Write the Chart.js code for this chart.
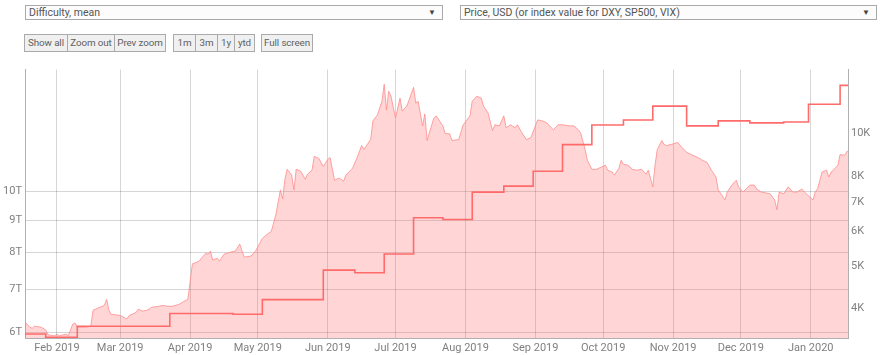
<!DOCTYPE html>
<html>
<head>
<meta charset="utf-8">
<script src="https://cdn.jsdelivr.net/npm/chart.js@4.4.1/dist/chart.umd.min.js"></script>
<style>
  body { margin: 0; width: 880px; height: 355px; position: relative; background: #fff; font-family: Roboto, sans-serif; overflow: hidden; }
  .sel { position: absolute; top: 5px; height: 15px; box-sizing: border-box; border: 1px solid #a9a9a9; background: #fcfcfc; color: #555; font-size: 10.5px; line-height: 13px; padding-left: 3px; }
  .sel span { position: absolute; right: 6px; top: 0; font-size: 8px; color: #444; }
  .btn { position: absolute; top: 34px; height: 18px; box-sizing: border-box; border: 1px solid #aaa; background: #f0f0f0; color: #606060; font-size: 9.8px; line-height: 16px; text-align: center; white-space: nowrap; letter-spacing: -0.1px; }
  canvas { position: absolute; left: 0; top: 60px; }
</style>
</head>
<body>
<div class="sel" style="left:25px; width:418px;">Difficulty, mean<span>&#9660;</span></div>
<div class="sel" style="left:460px; width:417px;">Price, USD (or index value for DXY, SP500, VIX)<span>&#9660;</span></div>

<div class="btn" style="left:24px; width:44px;">Show all</div>
<div class="btn" style="left:67px; width:48px;">Zoom out</div>
<div class="btn" style="left:114px; width:52px;">Prev zoom</div>
<div class="btn" style="left:173px; width:23px;">1m</div>
<div class="btn" style="left:195px; width:23px;">3m</div>
<div class="btn" style="left:217px; width:18px;">1y</div>
<div class="btn" style="left:234px; width:21px;">ytd</div>
<div class="btn" style="left:261px; width:52px;">Full screen</div>

<canvas id="chart" width="880" height="295"></canvas>

<script>
// visible date range
const rangeStart = '2019-01-17T20:00:00Z';
const rangeEnd = '2020-01-17T12:00:00Z';

// month ticks on the x axis
const monthTicks = ['2019-02-01', '2019-03-01', '2019-04-01', '2019-05-01', '2019-06-01', '2019-07-01',
  '2019-08-01', '2019-09-01', '2019-10-01', '2019-11-01', '2019-12-01', '2020-01-01'];
const monthNames = ['Jan', 'Feb', 'Mar', 'Apr', 'May', 'Jun', 'Jul', 'Aug', 'Sep', 'Oct', 'Nov', 'Dec'];

// axis ticks
const diffTicks = [6, 7, 8, 9, 10];              // T
const priceTicks = [4000, 5000, 6000, 7000, 8000, 10000];
const diffMin = 5.874, diffMax = 15.52;
const priceMin = 3431, priceMax = 13990;

// difficulty (T), value changes on each date
const diffDates = ['2019-01-17', '2019-01-27', '2019-02-10', '2019-03-23', '2019-04-20', '2019-05-03',
  '2019-05-30', '2019-06-13', '2019-06-26', '2019-07-09', '2019-07-22', '2019-08-04', '2019-08-18',
  '2019-08-31', '2019-09-13', '2019-09-26', '2019-10-10', '2019-10-23', '2019-11-07', '2019-11-21',
  '2019-12-05', '2019-12-20', '2019-12-31', '2020-01-14', '2020-01-18'];
const diffValues = [5.96, 5.89, 6.13, 6.42, 6.40, 6.75, 7.51, 7.44, 7.96, 9.08, 9.02, 9.96, 10.18,
  10.74, 11.83, 12.70, 12.93, 13.60, 12.66, 12.89, 12.80, 12.84, 13.69, 14.66, 14.66];

// price, USD
const priceDates = ['2019-01-17', '2019-01-20', '2019-01-21', '2019-01-22', '2019-01-25', '2019-01-27',
  '2019-01-28', '2019-01-31', '2019-02-01', '2019-02-02', '2019-02-05', '2019-02-06', '2019-02-08',
  '2019-02-09', '2019-02-10', '2019-02-14', '2019-02-16', '2019-02-17', '2019-02-19', '2019-02-20',
  '2019-02-22', '2019-02-23', '2019-02-24', '2019-02-25', '2019-02-26', '2019-03-01', '2019-03-04',
  '2019-03-05', '2019-03-08', '2019-03-09', '2019-03-11', '2019-03-13', '2019-03-15', '2019-03-18',
  '2019-03-20', '2019-03-22', '2019-03-24', '2019-03-27', '2019-03-29', '2019-03-31', '2019-04-02',
  '2019-04-03', '2019-04-05', '2019-04-06', '2019-04-08', '2019-04-09', '2019-04-10', '2019-04-11',
  '2019-04-13', '2019-04-14', '2019-04-16', '2019-04-19', '2019-04-21', '2019-04-23', '2019-04-24',
  '2019-04-25', '2019-04-28', '2019-04-30', '2019-05-03', '2019-05-05', '2019-05-07', '2019-05-09',
  '2019-05-11', '2019-05-12', '2019-05-13', '2019-05-14', '2019-05-16', '2019-05-17', '2019-05-18',
  '2019-05-20', '2019-05-22', '2019-05-23', '2019-05-25', '2019-05-26', '2019-05-28', '2019-05-30',
  '2019-06-01', '2019-06-02', '2019-06-04', '2019-06-06', '2019-06-08', '2019-06-09', '2019-06-12',
  '2019-06-14', '2019-06-16', '2019-06-17', '2019-06-20', '2019-06-21', '2019-06-23', '2019-06-25',
  '2019-06-26', '2019-06-27', '2019-06-28', '2019-06-29', '2019-07-01', '2019-07-03', '2019-07-04',
  '2019-07-06', '2019-07-07', '2019-07-09', '2019-07-10', '2019-07-11', '2019-07-13', '2019-07-14',
  '2019-07-15', '2019-07-18', '2019-07-19', '2019-07-22', '2019-07-23', '2019-07-25', '2019-07-26',
  '2019-07-29', '2019-07-31', '2019-08-03', '2019-08-04', '2019-08-06', '2019-08-08', '2019-08-09',
  '2019-08-11', '2019-08-13', '2019-08-14', '2019-08-16', '2019-08-18', '2019-08-19', '2019-08-21',
  '2019-08-23', '2019-08-24', '2019-08-26', '2019-08-28', '2019-08-30', '2019-09-02', '2019-09-04',
  '2019-09-06', '2019-09-08', '2019-09-09', '2019-09-11', '2019-09-13', '2019-09-16', '2019-09-18',
  '2019-09-20', '2019-09-21', '2019-09-23', '2019-09-24', '2019-09-26', '2019-09-28', '2019-09-30',
  '2019-10-02', '2019-10-03', '2019-10-05', '2019-10-06', '2019-10-08', '2019-10-09', '2019-10-10',
  '2019-10-12', '2019-10-14', '2019-10-16', '2019-10-18', '2019-10-20', '2019-10-21', '2019-10-23',
  '2019-10-24', '2019-10-25', '2019-10-27', '2019-10-28', '2019-10-29', '2019-10-31', '2019-11-03',
  '2019-11-05', '2019-11-07', '2019-11-09', '2019-11-12', '2019-11-14', '2019-11-16', '2019-11-18',
  '2019-11-20', '2019-11-21', '2019-11-24', '2019-11-25', '2019-11-27', '2019-11-29', '2019-11-30',
  '2019-12-02', '2019-12-05', '2019-12-07', '2019-12-08', '2019-12-10', '2019-12-14', '2019-12-16',
  '2019-12-17', '2019-12-18', '2019-12-20', '2019-12-22', '2019-12-24', '2019-12-26', '2019-12-28',
  '2019-12-30', '2020-01-02', '2020-01-03', '2020-01-04', '2020-01-06', '2020-01-08', '2020-01-09',
  '2020-01-10', '2020-01-11', '2020-01-13', '2020-01-14', '2020-01-16', '2020-01-17', '2020-01-18'];
const priceValues = [3770, 3630, 3610, 3650, 3630, 3580,
  3490, 3470, 3500, 3470, 3500, 3470, 3690,
  3710, 3630, 3630, 3650, 3970, 4010, 4030,
  4070, 4200, 3970, 3880, 3880, 3860, 3790,
  3860, 3920, 3990, 3950, 3970, 4030, 4050,
  4070, 4050, 4050, 4090, 4150, 4200, 5060,
  5080, 5130, 5210, 5350, 5320, 5410, 5160,
  5210, 5130, 5320, 5380, 5410, 5610, 5410,
  5240, 5270, 5410, 5780, 5900, 6000, 6550,
  7450, 7110, 7880, 8300, 8050, 7450, 8300,
  8220, 7880, 8090, 8260, 8880, 8790, 8430,
  8740, 8830, 7840, 7930, 7800, 8050, 8350,
  8830, 9400, 9210, 9700, 10700, 11030, 11860,
  12950, 11320, 12490, 12170, 10860, 12050, 11260,
  11560, 11920, 12750, 11740, 11860, 10420, 11090,
  9650, 10860, 10980, 10420, 10000, 10000, 9650,
  9700, 10480, 10980, 11860, 12170, 12050, 11560,
  11150, 10160, 10480, 10420, 10980, 10320, 10480,
  10320, 10480, 10050, 9700, 9800, 10750, 10700,
  10590, 10320, 10210, 10480, 10480, 10420, 10420,
  10210, 10050, 9210, 8700, 8300, 8300, 8390,
  8480, 8260, 8180, 8050, 8350, 8700, 8520,
  8480, 8300, 8260, 8300, 8090, 8260, 7570,
  8480, 9210, 9650, 9450, 9400, 9450, 9550,
  9300, 9070, 8970, 8830, 8700, 8610, 8260,
  7970, 7450, 7070, 7370, 7640, 7840, 7570,
  7370, 7640, 7640, 7490, 7370, 7300, 7070,
  6720, 7370, 7300, 7570, 7370, 7370, 7490,
  7300, 7070, 7370, 7490, 8180, 8260, 7970,
  8180, 8260, 8480, 8970, 8930, 9110, 9150];

// dates -> days since 2019-01-01
const t0 = Date.UTC(2019, 0, 1);
const toDay = s => (Date.parse(s.length === 10 ? s + 'T00:00:00Z' : s) - t0) / 86400000;

const diffData = diffDates.map((d, i) => ({ x: toDay(d), y: diffValues[i] }));
const priceData = priceDates.map((d, i) => ({ x: toDay(d), y: priceValues[i] }));

const tickFont = { family: 'Roboto', size: 11 };
const tickColor = '#808080';
const gridColor = 'rgba(0,0,0,0.16)';
const borderColor = '#b0b0b0';

const ctx = document.getElementById('chart').getContext('2d');
const chart = new Chart(ctx, {
  type: 'line',
  data: {
    datasets: [
      {
        label: 'Difficulty, mean',
        data: diffData,
        yAxisID: 'yDiff',
        stepped: true,
        borderColor: '#ff6b6b',
        borderWidth: 1.6,
        pointRadius: 0,
        fill: false
      },
      {
        label: 'Price, USD',
        data: priceData,
        yAxisID: 'yPrice',
        borderColor: 'rgba(255, 140, 140, 0.8)',
        borderWidth: 1,
        backgroundColor: 'rgba(255, 100, 100, 0.27)',
        pointRadius: 0,
        tension: 0,
        fill: 'start'
      }
    ]
  },
  options: {
    responsive: false,
    animation: false,
    events: [],
    layout: { padding: { top: 6, left: 0, right: 0, bottom: 0 } },
    plugins: { legend: { display: false }, tooltip: { enabled: false } },
    scales: {
      x: {
        type: 'linear',
        min: toDay(rangeStart),
        max: toDay(rangeEnd),
        afterBuildTicks: axis => { axis.ticks = monthTicks.map(m => ({ value: toDay(m) })); },
        afterFit: axis => { axis.height = 17; },
        grid: { color: gridColor, drawTicks: false },
        border: { display: true, color: borderColor },
        ticks: {
          autoSkip: false,
          maxRotation: 0,
          padding: 4,
          color: tickColor,
          font: tickFont,
          callback: v => {
            const dt = new Date(t0 + v * 86400000);
            return monthNames[dt.getUTCMonth()] + ' ' + dt.getUTCFullYear();
          }
        }
      },
      yDiff: {
        type: 'logarithmic',
        position: 'left',
        min: diffMin,
        max: diffMax,
        afterBuildTicks: axis => { axis.ticks = diffTicks.map(v => ({ value: v })); },
        afterFit: axis => { axis.width = 25; },
        grid: { color: gridColor, drawTicks: false },
        border: { display: true, color: borderColor },
        ticks: { autoSkip: false, padding: 3, color: tickColor, font: tickFont, callback: v => v + 'T' }
      },
      yPrice: {
        type: 'logarithmic',
        position: 'right',
        min: priceMin,
        max: priceMax,
        afterBuildTicks: axis => { axis.ticks = priceTicks.map(v => ({ value: v })); },
        afterFit: axis => { axis.width = 32; },
        grid: { display: false, drawTicks: false },
        border: { display: true, color: borderColor },
        ticks: { autoSkip: false, padding: 3, color: tickColor, font: tickFont, callback: v => (v / 1000) + 'K' }
      }
    }
  },
  plugins: [{
    id: 'whiteBg',
    beforeDraw: c => {
      c.ctx.save();
      c.ctx.fillStyle = '#fff';
      c.ctx.fillRect(0, 0, c.width, c.height);
      c.ctx.restore();
    }
  }]
});
</script>
</body>
</html>
